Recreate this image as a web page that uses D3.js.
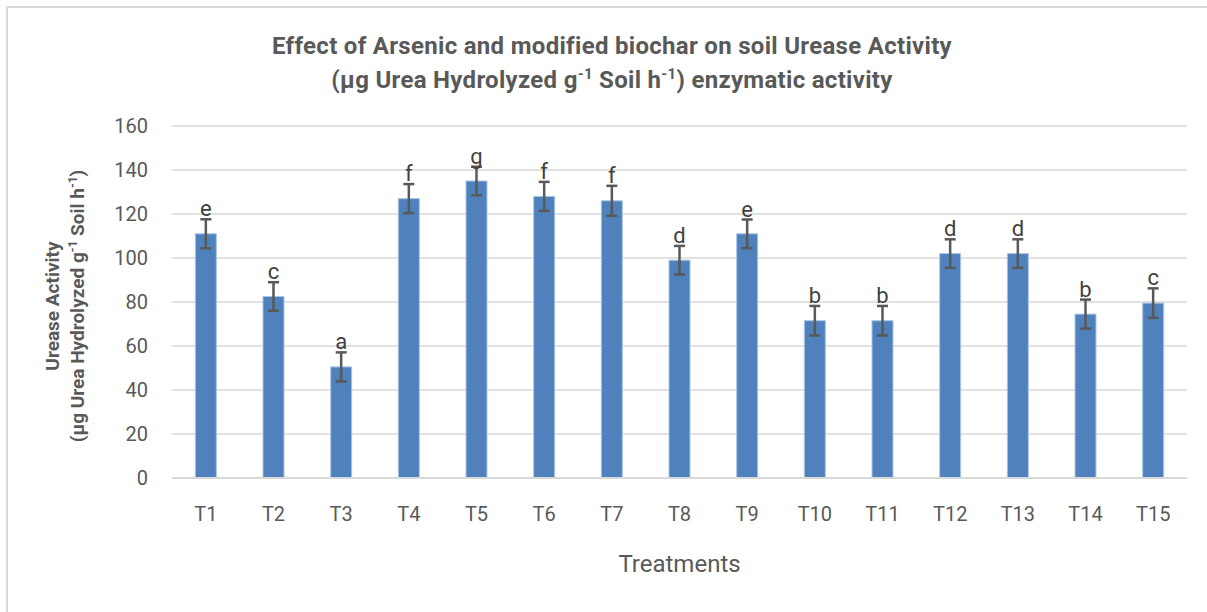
<!DOCTYPE html>
<html>
<head>
<meta charset="utf-8">
<script src="https://cdn.jsdelivr.net/npm/d3@7"></script>
<style>
  body { margin: 0; background: #fff; }
  svg { font-family: Roboto, "Liberation Sans", sans-serif; }
</style>
</head>
<body>
<svg id="chart" width="1207" height="612"></svg>
<script>
// --- data ---
const treatments = ["T1","T2","T3","T4","T5","T6","T7","T8","T9","T10","T11","T12","T13","T14","T15"];
const ureaseMeans = [111, 82.5, 50.5, 127, 135, 128, 126, 99, 111, 71.5, 71.5, 102, 102, 74.5, 79.5];
const ureaseErrors = [6.6, 6.5, 6.6, 6.6, 6.5, 6.6, 6.8, 6.5, 6.5, 6.7, 6.7, 6.5, 6.5, 6.6, 6.7];
const groupLetters = ["e","c","a","f","g","f","f","d","e","b","b","d","d","b","c"];
const yTicks = [0, 20, 40, 60, 80, 100, 120, 140, 160];

const svg = d3.select("#chart");
const margin = { top: 126, right: 20, bottom: 134, left: 172 };
const width = 1187 - margin.left;
const height = 478 - margin.top;

// outer frame (top + left edges visible)
svg.append("path")
    .attr("d", "M7,612 L7,7 L1207,7")
    .attr("fill", "none")
    .attr("stroke", "#d9d9d9")
    .attr("stroke-width", 2);

const g = svg.append("g").attr("transform", `translate(${margin.left},${margin.top})`);

const x = d3.scaleBand().domain(treatments).range([0, width]).paddingInner(0.69).paddingOuter(0.345);
const y = d3.scaleLinear().domain([0, 160]).range([height, 0]);

// gridlines
g.selectAll(".grid")
    .data(yTicks.filter(d => d > 0))
    .enter().append("line")
    .attr("x1", 0).attr("x2", width)
    .attr("y1", d => y(d)).attr("y2", d => y(d))
    .attr("stroke", "#d9d9d9").attr("stroke-width", 1.5);

// y tick labels
const yAxis = g.append("g").call(d3.axisLeft(y).tickValues(yTicks).tickSize(0).tickPadding(24));
yAxis.select(".domain").remove();
yAxis.selectAll("text").attr("fill", "#595959").style("font-size", "20px")
    .style("font-family", "Roboto, sans-serif");

// bars
g.selectAll(".bar")
    .data(ureaseMeans)
    .enter().append("rect")
    .attr("x", (d, i) => x(treatments[i]))
    .attr("y", d => y(d))
    .attr("width", x.bandwidth())
    .attr("height", d => height - y(d))
    .attr("fill", "#4f81bd")
    .attr("stroke", "#a9c4e4")
    .attr("stroke-width", 1);

// baseline
g.append("line")
    .attr("x1", 0).attr("x2", width)
    .attr("y1", height).attr("y2", height)
    .attr("stroke", "#d9d9d9").attr("stroke-width", 2);

// error bars
const capHalf = 5.5;
const err = g.selectAll(".err").data(ureaseMeans).enter().append("g")
    .attr("transform", (d, i) => `translate(${x(treatments[i]) + x.bandwidth() / 2},0)`);
err.append("line")
    .attr("y1", (d, i) => y(d + ureaseErrors[i]))
    .attr("y2", (d, i) => y(d - ureaseErrors[i]))
    .attr("stroke", "#595959").attr("stroke-width", 2.5);
err.append("line")
    .attr("x1", -capHalf).attr("x2", capHalf)
    .attr("y1", (d, i) => y(d + ureaseErrors[i])).attr("y2", (d, i) => y(d + ureaseErrors[i]))
    .attr("stroke", "#595959").attr("stroke-width", 2.5);
err.append("line")
    .attr("x1", -capHalf).attr("x2", capHalf)
    .attr("y1", (d, i) => y(d - ureaseErrors[i])).attr("y2", (d, i) => y(d - ureaseErrors[i]))
    .attr("stroke", "#595959").attr("stroke-width", 2.5);

// significance letters
err.append("text")
    .attr("y", (d, i) => y(d + ureaseErrors[i]) - 3)
    .attr("text-anchor", "middle")
    .attr("fill", "#404040")
    .style("font-size", "22px")
    .text((d, i) => groupLetters[i]);

// x tick labels
const xAxis = g.append("g").attr("transform", `translate(0,${height})`)
    .call(d3.axisBottom(x).tickSize(0).tickPadding(29));
xAxis.select(".domain").remove();
xAxis.selectAll("text").attr("fill", "#595959").style("font-size", "20px")
    .style("font-family", "Roboto, sans-serif");

// x axis title
svg.append("text")
    .attr("x", margin.left + width / 2).attr("y", 572)
    .attr("text-anchor", "middle").attr("fill", "#595959")
    .style("font-size", "24px")
    .text("Treatments");

// chart title
const title = svg.append("text")
    .attr("text-anchor", "middle").attr("fill", "#595959")
    .style("font-size", "24px").style("font-weight", "bold")
    .style("letter-spacing", "0.3px");
title.append("tspan").attr("x", 612).attr("y", 54)
    .text("Effect of Arsenic and modified biochar on soil Urease Activity");
const t2 = title.append("tspan").attr("x", 612).attr("y", 88);
t2.append("tspan").text("(µg Urea Hydrolyzed g");
t2.append("tspan").attr("dy", -9).style("font-size", "15px").text("-1");
t2.append("tspan").attr("dy", 9).text(" Soil h");
t2.append("tspan").attr("dy", -9).style("font-size", "15px").text("-1");
t2.append("tspan").attr("dy", 9).text(") enzymatic activity");

// y axis title (two rotated lines)
const yt = svg.append("text")
    .attr("transform", `translate(59,306) rotate(-90)`)
    .attr("text-anchor", "middle").attr("fill", "#595959")
    .style("font-size", "19px").style("font-weight", "bold");
yt.append("tspan").attr("x", 0).attr("y", 0).text("Urease Activity");
const yl2 = yt.append("tspan").attr("x", 0).attr("y", 25);
yl2.append("tspan").text("(µg Urea Hydrolyzed g");
yl2.append("tspan").attr("dy", -7).style("font-size", "12px").text("-1");
yl2.append("tspan").attr("dy", 7).text(" Soil h");
yl2.append("tspan").attr("dy", -7).style("font-size", "12px").text("-1");
yl2.append("tspan").attr("dy", 7).text(")");
</script>
</body>
</html>
